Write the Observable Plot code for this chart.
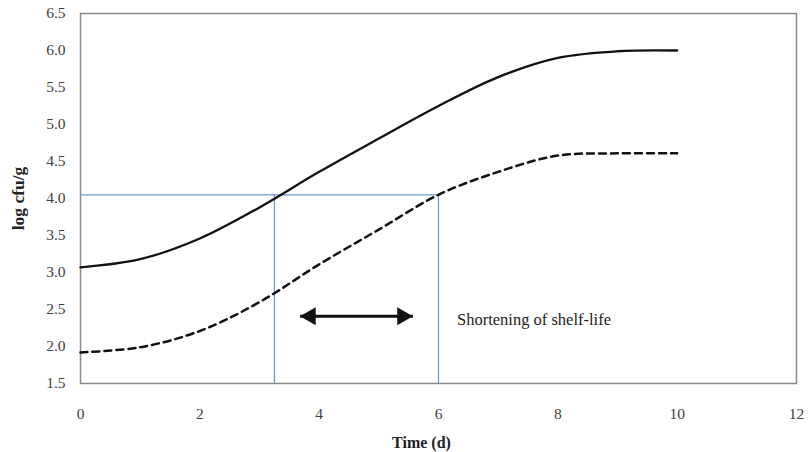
<!DOCTYPE html>
<html>
<head>
<meta charset="utf-8">
<script src="https://cdn.jsdelivr.net/npm/d3@7"></script>
<script src="https://cdn.jsdelivr.net/npm/@observablehq/plot@0.6"></script>
<style>
  html, body { margin: 0; padding: 0; background: #ffffff; }
  #chart { width: 810px; height: 452px; }
</style>
</head>
<body>
<div id="chart"></div>
<script>
// Growth curves (log cfu/g) sampled once per day
const days = [0, 1, 2, 3, 4, 5, 6, 7, 8, 9, 10];
const contaminatedLog = [3.07, 3.18, 3.46, 3.88, 4.36, 4.81, 5.25, 5.64, 5.90, 5.99, 6.00];
const baselineLog = [1.92, 1.99, 2.21, 2.60, 3.11, 3.58, 4.05, 4.36, 4.58, 4.61, 4.61];

// Spoilage threshold and the days each curve reaches it
const thresholdLog = 4.05;
const thresholdDays = [3.25, 6.0];

// Double arrow marking the lost shelf-life, and its caption
const arrowFrom = 3.68;
const arrowTo = 5.57;
const arrowLevel = 2.41;
const noteX = 6.31;
const noteY = 2.36;
const noteText = "Shortening of shelf-life";

// Axes
const xTicks = [0, 2, 4, 6, 8, 10, 12];
const yTicks = [1.5, 2.0, 2.5, 3.0, 3.5, 4.0, 4.5, 5.0, 5.5, 6.0, 6.5];
const xTitle = "Time (d)";
const yTitle = "log cfu/g";

const solid = days.map((d, i) => ({day: d, value: contaminatedLog[i]}));
const dashed = days.map((d, i) => ({day: d, value: baselineLog[i]}));
const yMin = yTicks[0];
const guideColor = "#6f93cf";

const chart = Plot.plot({
  width: 810,
  height: 452,
  marginLeft: 80,
  marginRight: 14,
  marginTop: 13,
  marginBottom: 69,
  style: {fontFamily: "'Liberation Serif', serif", fontSize: "15.5px", color: "#404040", background: "#ffffff"},
  x: {domain: [0, 12], ticks: xTicks, tickSize: 0, tickPadding: 24, label: null},
  y: {domain: [1.5, 6.5], ticks: yTicks, tickSize: 0, tickPadding: 15, tickFormat: d3.format(".1f"), label: null},
  marks: [
    Plot.frame({stroke: "#8a8a8a", strokeWidth: 1.5}),
    // threshold guides
    Plot.ruleY([thresholdLog], {x1: 0, x2: d3.max(thresholdDays), stroke: guideColor, strokeWidth: 1.2}),
    Plot.ruleX(thresholdDays, {y1: yMin, y2: thresholdLog, stroke: guideColor, strokeWidth: 1.2}),
    // growth curves
    Plot.line(solid, {x: "day", y: "value", curve: "catmull-rom", stroke: "#111", strokeWidth: 2.3}),
    Plot.line(dashed, {x: "day", y: "value", curve: "catmull-rom", stroke: "#111", strokeWidth: 2.5, strokeDasharray: "7,5"}),
    // double arrow
    Plot.link([{a: arrowFrom, b: arrowTo, y: arrowLevel}], {x1: "a", x2: "b", y1: "y", y2: "y", stroke: "#111", strokeWidth: 3}),
    Plot.dot([arrowTo], {x: d => d, y: arrowLevel, symbol: "triangle", r: 6.7, rotate: 90, dx: -10.4, fill: "#111", stroke: "none"}),
    Plot.dot([arrowFrom], {x: d => d, y: arrowLevel, symbol: "triangle", r: 6.7, rotate: -90, dx: 10.4, fill: "#111", stroke: "none"}),
    Plot.text([noteText], {x: noteX, y: noteY, text: d => d, textAnchor: "start", fontSize: 16.5, fill: "#222"}),
    // axis titles
    Plot.text([yTitle], {frameAnchor: "left", dx: -62, rotate: -90, textAnchor: "middle", text: d => d, fontWeight: "bold", fontSize: 17.5, fill: "#222"}),
    Plot.text([xTitle], {frameAnchor: "bottom", dx: -17, dy: 53, lineAnchor: "top", textAnchor: "middle", text: d => d, fontWeight: "bold", fontSize: 16, fill: "#222"})
  ]
});

document.getElementById("chart").appendChild(chart);
</script>
</body>
</html>
